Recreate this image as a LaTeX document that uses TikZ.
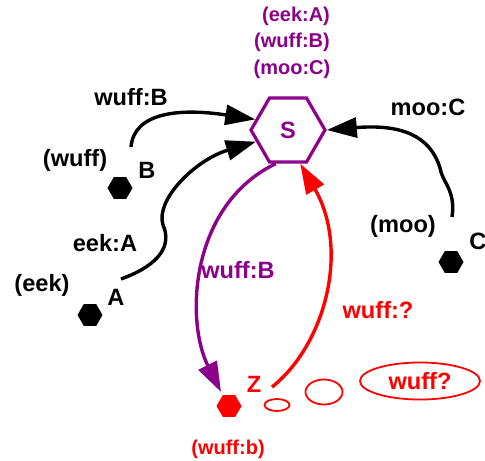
\documentclass[tikz,border=0pt]{standalone}
\usepackage{fontspec}
\setmainfont{Liberation Sans}
\usetikzlibrary{shapes.geometric,arrows.meta}
\definecolor{agentpurple}{RGB}{140,0,140}
\begin{document}
\begin{tikzpicture}[x=0.5pt,y=-0.5pt,font=\fontsize{11.8}{14}\selectfont\bfseries,
    hexa/.style={regular polygon,regular polygon sides=6,inner sep=0pt},
    smallhex/.style={hexa,fill=black,minimum size=12.5pt},
    small/.style={font=\fontsize{10}{12}\selectfont\bfseries},
    msg/.style={line width=1.7pt,-{Triangle[length=15pt,width=10pt]}},
    bubble/.style={ellipse,draw=red,line width=0.9pt,inner sep=0pt}]
    \useasboundingbox (0,0) rectangle (485,460);
    % the shared node
    \node[hexa,draw=agentpurple,line width=1.6pt,minimum size=37pt,text=agentpurple] (S) at (288,130) {S};
    \node[small,agentpurple] (s1) at (296,16) {(eek:A)};
    \node[small,agentpurple] (s2) at (292,42) {(wuff:B)};
    \node[small,agentpurple] (s3) at (292,69) {(moo:C)};
    % the speakers
    \node[smallhex] (B) at (120,188) {}; \node at (147,170) {B}; \node at (75,160) {(wuff)};
    \node[smallhex] (A) at (90,315) {}; \node at (116,297) {A}; \node at (42,285) {(eek)};
    \node[smallhex] (C) at (451,262) {}; \node at (478,241) {C}; \node at (403,226) {(moo)};
    \node[smallhex,fill=red] (Z) at (229,406) {}; \node[red] at (254,384) {Z}; \node[small,red] at (228,449) {(wuff:b)};
    % where the arrows leave
    \coordinate (b-out) at (131,147);
    \coordinate (a-out) at (121,279);
    \coordinate (c-out) at (452,217);
    \coordinate (z-out) at (272,387);
    \coordinate (z-in) at (221,392);
    \draw[msg] (b-out) .. controls (134,112) and (180,108) .. (S.162);
    \node at (131,97) {wuff:B};
    \draw[msg] (a-out) .. controls (160,265) and (172,245) .. (163,225) .. controls (155,200) and (195,160) .. (S.200);
    \node at (105,243) {eek:A};
    \draw[msg] (c-out) .. controls (456,190) and (442,182) .. (440,168) .. controls (430,135) and (400,124) .. (S.east);
    \node at (428,107) {moo:C};
    \draw[msg,agentpurple] (S.250) .. controls (190,205) and (185,320) .. (z-in);
    \node[agentpurple] at (238,270) {wuff:B};
    \draw[msg,red] (z-out) .. controls (325,345) and (350,250) .. (S.290);
    \node[red] at (378,310) {wuff:?};
    % thinking
    \node[bubble,minimum width=12.5pt,minimum height=6pt] (t1) at (277,405) {};
    \node[bubble,minimum width=18.5pt,minimum height=12.5pt] (t2) at (324,392) {};
    \node[bubble,minimum width=60pt,minimum height=18.5pt,text=red] (t3) at (420,381) {wuff?};
\end{tikzpicture}
\end{document}
